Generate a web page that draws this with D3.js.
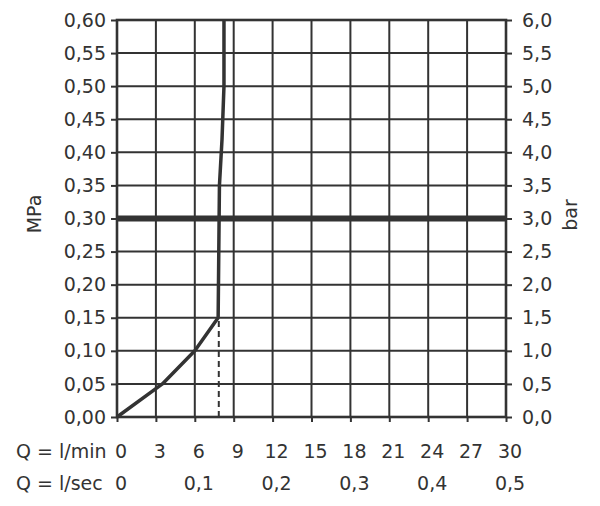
<!DOCTYPE html>
<html>
<head>
<meta charset="utf-8">
<script src="https://cdn.jsdelivr.net/npm/d3@7"></script>
<style>
    body { margin: 0; background: #fff; }
    text { font-family: "DejaVu Sans", sans-serif; fill: #333; }
</style>
</head>
<body>
<div id="canvas"></div>
<script>
"use strict";

let svgWidth = 600;
let svgHeight = 506;

let margin = { top: 20, right: 94, bottom: 89, left: 117 };

/* ---------------- DATA ---------------- */

// flow curve: l/min vs MPa
let flowLpm = [0, 3.5, 6, 7.8, 7.85, 7.9, 8.1, 8.25, 8.25];
let pressureMpa = [0, 0.05, 0.10, 0.15, 0.25, 0.35, 0.42, 0.50, 0.60];

// dashed reference line
let dashedFlow = 7.85;
let dashedTop = 0.15;

// thick line at operating pressure
let refPressure = 0.30;

let mpaTicks = [0, 0.05, 0.10, 0.15, 0.20, 0.25, 0.30, 0.35, 0.40, 0.45, 0.50, 0.55, 0.60];
let barTicks = [0, 0.5, 1, 1.5, 2, 2.5, 3, 3.5, 4, 4.5, 5, 5.5, 6];
let lpmTicks = [0, 3, 6, 9, 12, 15, 18, 21, 24, 27, 30];
let lpsTicks = [0, 0.1, 0.2, 0.3, 0.4, 0.5];

let svg = d3.select("#canvas")
    .append("svg")
    .attr("width", svgWidth)
    .attr("height", svgHeight);

let x0 = margin.left;
let x1 = svgWidth - margin.right;
let y0 = svgHeight - margin.bottom;
let y1 = margin.top;

let fontSize = "19px";

/* ---------------- SCALES ---------------- */

let xScale = d3.scaleLinear().domain([0, 30]).range([x0, x1]);
let xSecScale = d3.scaleLinear().domain([0, 0.5]).range([x0, x1]);
let yScale = d3.scaleLinear().domain([0, 0.6]).range([y0, y1]);
let yBarScale = d3.scaleLinear().domain([0, 6]).range([y0, y1]);

let ink = "#333";
let comma = function (fmt) {
    return function (d) { return d3.format(fmt)(d).replace(".", ","); };
};

/* ---------------- GRID ---------------- */

let grid = svg.append("g");

grid.selectAll(".vg")
    .data(lpmTicks)
    .enter()
    .append("line")
    .attr("x1", d => xScale(d))
    .attr("x2", d => xScale(d))
    .attr("y1", y1)
    .attr("y2", y0)
    .attr("stroke", ink)
    .attr("stroke-width", 2);

grid.selectAll(".hg")
    .data(mpaTicks)
    .enter()
    .append("line")
    .attr("x1", x0)
    .attr("x2", x1)
    .attr("y1", d => yScale(d))
    .attr("y2", d => yScale(d))
    .attr("stroke", ink)
    .attr("stroke-width", 2);

// frame
svg.append("rect")
    .attr("x", x0)
    .attr("y", y1)
    .attr("width", x1 - x0)
    .attr("height", y0 - y1)
    .attr("fill", "none")
    .attr("stroke", ink)
    .attr("stroke-width", 2.6);

/* ---------------- AXES ---------------- */

let leftAxis = d3.axisLeft(yScale)
    .tickValues(mpaTicks)
    .tickFormat(comma(".2f"))
    .tickSize(6)
    .tickPadding(5);

let gl = svg.append("g")
    .attr("transform", "translate(" + x0 + ",0)")
    .call(leftAxis);

let rightAxis = d3.axisRight(yBarScale)
    .tickValues(barTicks)
    .tickFormat(comma(".1f"))
    .tickSize(6)
    .tickPadding(10);

let gr = svg.append("g")
    .attr("transform", "translate(" + x1 + ",0)")
    .call(rightAxis);

let bottomAxis = d3.axisBottom(xScale)
    .tickValues(lpmTicks)
    .tickFormat("")
    .tickSize(5);

let gb = svg.append("g")
    .attr("transform", "translate(0," + y0 + ")")
    .call(bottomAxis);

[gl, gr, gb].forEach(function (g) {
    g.select(".domain").remove();
    g.selectAll(".tick line").attr("stroke", ink).attr("stroke-width", 2);
    g.selectAll(".tick text")
        .attr("font-size", fontSize)
        .attr("fill", ink)
        .style("font-family", "DejaVu Sans, sans-serif");
});

/* ---------------- BOTTOM LABELS ---------------- */

svg.append("text")
    .attr("x", 16)
    .attr("y", 458)
    .attr("font-size", fontSize)
    .text("Q = l/min");

svg.selectAll(".lpm")
    .data(lpmTicks)
    .enter()
    .append("text")
    .attr("x", d => xScale(d) + 4)
    .attr("y", 458)
    .attr("text-anchor", "middle")
    .attr("font-size", fontSize)
    .text(d => d);

svg.append("text")
    .attr("x", 16)
    .attr("y", 490)
    .attr("font-size", fontSize)
    .text("Q = l/sec");

svg.selectAll(".lps")
    .data(lpsTicks)
    .enter()
    .append("text")
    .attr("x", d => xSecScale(d) + 4)
    .attr("y", 490)
    .attr("text-anchor", "middle")
    .attr("font-size", fontSize)
    .text(d => d === 0 ? "0" : comma(".1f")(d));

/* ---------------- AXIS TITLES ---------------- */

svg.append("text")
    .attr("transform", "translate(41,214) rotate(-90)")
    .attr("text-anchor", "middle")
    .attr("font-size", fontSize)
    .text("MPa");

svg.append("text")
    .attr("transform", "translate(577,215) rotate(-90)")
    .attr("text-anchor", "middle")
    .attr("font-size", fontSize)
    .text("bar");

/* ---------------- REFERENCE LINES ---------------- */

svg.append("line")
    .attr("x1", x0)
    .attr("x2", x1)
    .attr("y1", yScale(refPressure))
    .attr("y2", yScale(refPressure))
    .attr("stroke", ink)
    .attr("stroke-width", 6);

svg.append("line")
    .attr("x1", xScale(dashedFlow))
    .attr("x2", xScale(dashedFlow))
    .attr("y1", yScale(0))
    .attr("y2", yScale(dashedTop))
    .attr("stroke", ink)
    .attr("stroke-width", 2)
    .attr("stroke-dasharray", "6,4");

/* ---------------- CURVE ---------------- */

let curveData = flowLpm.map(function (f, i) {
    return { q: f, p: pressureMpa[i] };
});

let line = d3.line()
    .x(d => xScale(d.q))
    .y(d => yScale(d.p));

svg.append("path")
    .datum(curveData)
    .attr("d", line)
    .attr("fill", "none")
    .attr("stroke", ink)
    .attr("stroke-width", 3.5)
    .attr("stroke-linejoin", "round");
</script>
</body>
</html>
